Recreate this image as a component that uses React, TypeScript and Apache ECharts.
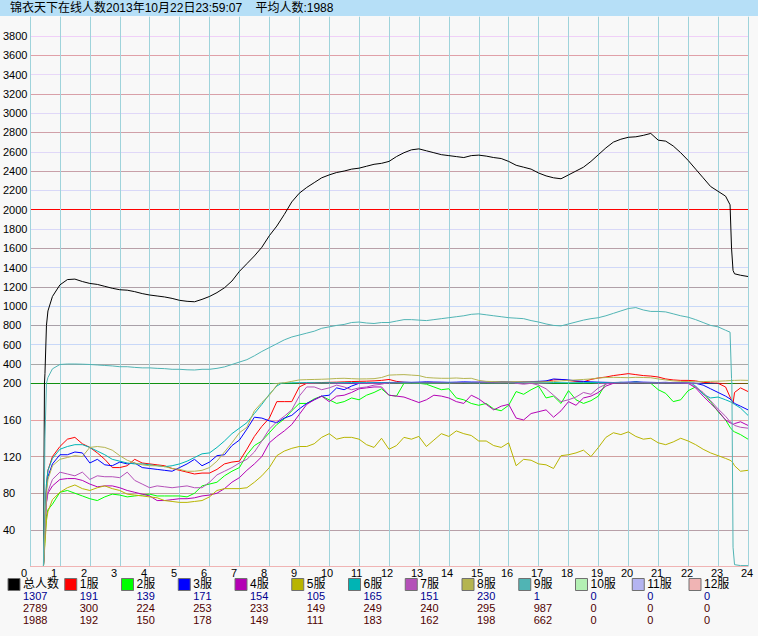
import React, { useEffect, useRef } from 'react';
import * as echarts from 'echarts';

const TITLE = '锦衣天下在线人数2013年10月22日23:59:07    平均人数:1988';

// sample times (hours of the day)
const HOURS = [
  0.45, 0.5, 0.55, 0.6, 0.75,
  1, 1.25, 1.5, 1.75,
  2, 2.25, 2.5, 2.75,
  3, 3.25, 3.5, 3.75,
  4, 4.25, 4.5, 4.75,
  5, 5.25, 5.5, 5.75,
  6, 6.25, 6.5, 6.75,
  7, 7.25, 7.5, 7.75,
  8, 8.25, 8.5, 8.75,
  9, 9.25, 9.5, 9.75,
  10, 10.25, 10.5, 10.75,
  11, 11.25, 11.5, 11.75,
  12, 12.25, 12.5, 12.75,
  13, 13.25, 13.5, 13.75,
  14, 14.25, 14.5, 14.75,
  15, 15.25, 15.5, 15.75,
  16, 16.25, 16.5, 16.75,
  17, 17.25, 17.5, 17.75,
  18, 18.25, 18.5, 18.75,
  19, 19.25, 19.5, 19.75,
  20, 20.25, 20.5, 20.75,
  21, 21.25, 21.5, 21.75,
  22, 22.25, 22.5, 22.75,
  23, 23.25, 23.4, 23.45, 23.5, 23.55, 23.75, 24,
];

const TOTAL = [
  0, 300, 800, 950, 1100,
  1220, 1275, 1280, 1255,
  1235, 1225, 1205, 1185,
  1170, 1165, 1150, 1130,
  1115, 1105, 1095, 1080,
  1060, 1050, 1045, 1070,
  1100, 1140, 1190, 1260,
  1360, 1440, 1520, 1610,
  1730, 1830, 1950, 2080,
  2170, 2230, 2280, 2330,
  2360, 2385, 2400, 2420,
  2430, 2450, 2470, 2480,
  2500, 2550, 2590, 2620,
  2630, 2610, 2590, 2570,
  2560, 2550, 2540, 2560,
  2565, 2555, 2540, 2530,
  2500, 2460, 2440, 2420,
  2380, 2350, 2330, 2320,
  2360, 2400, 2440, 2500,
  2570, 2640, 2700, 2730,
  2750, 2755, 2770, 2790,
  2720, 2710, 2660, 2590,
  2510, 2420, 2330, 2240,
  2190, 2140, 2050, 1600, 1370, 1335, 1320, 1307,
];

const S1 = [
  0, 50, 90, 105, 120,
  131, 139, 141, 134,
  130, 124, 117, 108,
  108, 110, 117, 113,
  112, 111, 110, 107,
  105, 103, 101, 102,
  102, 106, 112, 114,
  115, 128, 142, 153,
  162, 180, 180, 180,
  196, 200, 205, 208,
  210, 212, 215, 218,
  220, 222, 225, 230,
  240, 220, 210, 208,
  207, 210, 208, 206,
  206, 205, 207, 208,
  210, 208, 210, 212,
  210, 212, 215, 218,
  215, 220, 235, 240,
  228, 220, 215, 240,
  255, 265, 280, 290,
  300, 290, 280, 275,
  265, 245, 235, 230,
  230, 225, 210, 205,
  200, 196, 185, 182, 178, 190, 195, 191,
];

const S2 = [
  0, 30, 55, 62, 68,
  81, 83, 80, 77,
  74, 72, 76, 79,
  78, 76, 77, 78,
  79, 77, 77, 77,
  77, 76, 80, 88,
  90, 92, 99, 104,
  108, 122, 132, 137,
  146, 155, 161, 170,
  178, 178, 183, 186,
  182, 178, 180, 184,
  182, 187, 190, 194,
  187, 186, 200, 201,
  200, 199, 196, 193,
  194, 184, 182, 178,
  176, 178, 172, 170,
  176, 191, 188, 193,
  197, 184, 186, 178,
  192, 182, 178, 181,
  186, 200, 205, 210,
  205, 215, 205, 200,
  193, 189, 180, 182,
  192, 196, 189, 180,
  169, 160, 152, 150, 148, 147, 144, 139,
];

const S3 = [
  0, 45, 85, 98, 112,
  122, 122, 125, 124,
  113, 117, 111, 110,
  114, 112, 113, 108,
  107, 106, 105, 104,
  108, 112, 117, 110,
  114, 121, 122, 132,
  138, 150, 163, 162,
  159, 157, 162, 165,
  172, 178, 182, 186,
  187, 195, 193, 197,
  200, 202, 205, 207,
  208, 210, 212, 210,
  212, 215, 213, 212,
  210, 212, 215, 213,
  212, 214, 215, 218,
  215, 213, 216, 218,
  220, 225, 245, 240,
  235, 225, 220, 215,
  212, 210, 208, 210,
  212, 215, 212, 210,
  208, 210, 206, 205,
  203, 200, 198, 194,
  190, 186, 183, 181, 180, 178, 175, 171,
];

const S4 = [
  0, 40, 70, 80, 88,
  95, 96, 96, 94,
  90, 87, 88, 88,
  86, 83, 81, 79,
  77, 72, 72, 73,
  74, 74, 75, 77,
  78, 80, 85, 92,
  97, 105, 112, 120,
  135, 142, 148, 155,
  166, 177, 182, 186,
  180, 186, 187, 190,
  194, 195, 196, 196,
  187, 186, 185, 182,
  179, 182, 187, 186,
  184, 180, 178, 187,
  183, 177, 171, 175,
  177, 162, 160, 167,
  169, 171, 163, 170,
  180, 176, 184, 186,
  190, 197, 200, 202,
  203, 204, 203, 202,
  202, 203, 202, 201,
  200, 195, 186, 178,
  170, 160, 157, 156, 155, 156, 158, 154,
];

const S5 = [
  0, 25, 50, 60, 73,
  81, 86, 89, 85,
  83, 86, 88, 85,
  83, 79, 78, 77,
  76, 75, 72, 71,
  70, 70, 71, 72,
  76, 83, 85, 85,
  85, 86, 92, 99,
  108, 121, 126, 129,
  131, 131, 134, 141,
  145, 139, 141, 141,
  139, 133, 130, 140,
  128, 132, 141, 139,
  142, 131, 138, 145,
  142, 148, 145, 143,
  137, 137, 132, 130,
  135, 110, 117, 116,
  112, 111, 107, 121,
  122, 124, 127, 120,
  130, 141, 146, 144,
  147, 142, 139, 140,
  135, 133, 136, 140,
  137, 133, 128, 124,
  121, 118, 116, 115, 113, 110, 104, 105,
];

const S6 = [
  0, 50, 90, 105, 118,
  128, 131, 133, 133,
  130, 126, 122, 117,
  115, 113, 112, 112,
  111, 110, 109, 110,
  112, 115, 119, 123,
  124, 130, 137, 145,
  151, 157, 167, 177,
  188, 197, 202, 205,
  206, 207, 206, 205,
  206, 205, 207, 208,
  207, 206, 205, 206,
  205, 206, 207, 205,
  206, 205, 204, 205,
  206, 205, 207, 206,
  205, 206, 204, 205,
  206, 205, 204, 205,
  206, 205, 207, 206,
  205, 206, 207, 208,
  207, 206, 208, 207,
  206, 208, 207, 206,
  205, 206, 204, 203,
  202, 197, 188, 184,
  185, 182, 180, 179, 178, 177, 173, 165,
];

const S7 = [
  0, 40, 70, 82, 95,
  103, 101, 99, 103,
  95, 99, 98, 98,
  97, 103, 94, 90,
  86, 88, 87, 86,
  87, 88, 86, 86,
  92, 100, 104, 108,
  113, 117, 125, 137,
  150, 158, 164, 171,
  186, 196, 196, 193,
  195, 198, 196, 193,
  195, 196, 198, 199,
  201, 202, 203, 202,
  203, 202, 204, 203,
  202, 203, 204, 202,
  203, 204, 203, 202,
  203, 200, 199, 200,
  198, 194, 187, 180,
  182, 185, 190, 188,
  195, 199, 202, 203,
  204, 203, 205, 204,
  203, 204, 203, 202,
  200, 196, 190, 181,
  172, 164, 158, 157, 156, 154, 152, 151,
];

const S8 = [
  0, 40, 80, 95, 110,
  117, 119, 121, 120,
  130, 131, 130, 127,
  121, 116, 113, 111,
  110, 110, 109, 107,
  106, 104, 104, 105,
  108, 115, 125, 135,
  146, 152, 170, 179,
  187, 198, 205, 220,
  235, 238, 240, 242,
  245, 250, 252, 248,
  245, 246, 248, 260,
  285, 288, 290, 285,
  280, 260, 255, 252,
  252, 255, 250, 252,
  230, 220, 218, 216,
  215, 218, 216, 215,
  214, 216, 218, 225,
  230, 235, 240, 245,
  255, 260, 262, 260,
  258, 262, 260, 258,
  245, 235, 225, 220,
  218, 216, 218, 220,
  222, 225, 228, 228, 230, 230, 232, 230,
];

const S9 = [
  0, 140, 200, 260, 350,
  395, 400, 400, 398,
  395, 390, 385, 380,
  372, 372, 365, 360,
  360, 355, 352, 345,
  345, 340, 338, 345,
  345, 355, 370, 395,
  420, 445, 485, 530,
  570, 610, 650, 680,
  700, 720, 740, 770,
  785, 800, 810, 830,
  835, 825, 820, 830,
  830, 845, 860, 860,
  855, 850, 860, 870,
  880, 890, 900, 915,
  920, 910, 900, 890,
  880, 875, 870, 850,
  835, 815, 800, 795,
  815, 835, 855, 870,
  880, 900, 925, 950,
  975, 985, 960, 945,
  945, 940, 920, 900,
  885, 860, 830, 800,
  785, 750, 730, 250, 21, 2, 1, 1,
];

// idle servers: flat zero over the whole day
const ZERO_HOURS = [0, 24];
const S10 = [0, 0];
const S11 = [0, 0];
const S12 = [0, 0];

const NAMES = ['总人数', '1服', '2服', '3服', '4服', '5服', '6服', '7服', '8服', '9服', '10服', '11服', '12服'];
const CURRENT = [1307, 191, 139, 171, 154, 105, 165, 151, 230, 1, 0, 0, 0];
const MAXIMUM = [2789, 300, 224, 253, 233, 149, 249, 240, 295, 987, 0, 0, 0];
const AVERAGE = [1988, 192, 150, 178, 149, 111, 183, 162, 198, 662, 0, 0, 0];

const COLORS = [
  '#000000', '#ff0000', '#00ff00', '#0000ff', '#b400b4', '#b8b400', '#00b4b4',
  '#b450b8', '#b4b450', '#50b4b4', '#b4f0b4', '#b4b4f0', '#f0b4b4',
];

const FONT = "'Liberation Sans', 'Noto Sans CJK SC', sans-serif";

export default function App() {
  const ref = useRef<HTMLDivElement>(null);

  useEffect(() => {
    if (!ref.current) return;
    const chart = echarts.init(ref.current, null, { renderer: 'svg' });

    const defs = [
      { values: TOTAL, hours: HOURS },
      { values: S1, hours: HOURS },
      { values: S2, hours: HOURS },
      { values: S3, hours: HOURS },
      { values: S4, hours: HOURS },
      { values: S5, hours: HOURS },
      { values: S6, hours: HOURS },
      { values: S7, hours: HOURS },
      { values: S8, hours: HOURS },
      { values: S9, hours: HOURS },
      { values: S10, hours: ZERO_HOURS },
      { values: S11, hours: ZERO_HOURS },
      { values: S12, hours: ZERO_HOURS },
    ];

    const series: any[] = [];
    defs.forEach((d, i) => {
      const pts = d.hours.map((h, k) => [h, d.values[k]]);
      const base = {
        type: 'line',
        name: NAMES[i],
        data: pts,
        symbol: 'none',
        silent: true,
        z: 2,
        lineStyle: { color: COLORS[i], width: 1 },
        itemStyle: { color: COLORS[i] },
      };
      const isZero = d.hours === ZERO_HOURS;
      if (!isZero) {
        series.push({ ...base, xAxisIndex: 0, yAxisIndex: 0, clip: true });
      }
      series.push({ ...base, xAxisIndex: 1, yAxisIndex: 1, clip: !isZero });
    });

    // horizontal grid colours, one per tick from the axis minimum upward
    const NONE = 'rgba(0,0,0,0)';
    const upperSplit = [
      '#109010', '#a8a8a8', '#c8d8f8', '#a8a0a8', '#c8d8f8', '#b0a0a8', '#d0d8f8',
      '#b8a0a8', '#d8d8f8', '#ff0000', '#d8d8f8', '#c8a0a8', '#e0d8f8', '#d0a0a8',
      '#e0d8f8', '#d8a0a8', '#e8d8f8', '#e0a0a8', '#f0d0f8', NONE,
    ];
    const lowerSplit = ['#ffb0b0', '#b8a0a8', '#c0a0a0', '#d0a0a0', '#e8a0a0', '#109010'];

    const vGrid = {
      show: true,
      lineStyle: { color: '#9fd3db', width: 1 },
    };

    const legendEls: any[] = [];
    NAMES.forEach((n, i) => {
      const x0 = 8 + 56.75 * i;
      legendEls.push({
        type: 'rect',
        shape: { x: x0, y: 578.5, width: 12, height: 12 },
        style: { fill: COLORS[i], stroke: '#707070', lineWidth: 1 },
      });
      legendEls.push({
        type: 'text',
        x: x0 + 15,
        y: 584,
        style: {
          text: n, fill: '#000', font: `12px ${FONT}`, verticalAlign: 'middle', lineHeight: 12,
        },
      });
      [CURRENT[i], MAXIMUM[i], AVERAGE[i]].forEach((v, r) => {
        legendEls.push({
          type: 'text',
          x: x0 + 15,
          y: 596 + 12 * r,
          style: {
            text: String(v),
            fill: r === 0 ? '#000090' : '#500000',
            font: `11px ${FONT}`,
            verticalAlign: 'middle',
            lineHeight: 11,
          },
        });
      });
    });

    chart.setOption({
      animation: false,
      backgroundColor: '#f8f8f8',
      textStyle: { fontFamily: FONT },
      title: {
        text: TITLE,
        left: 10,
        top: 1,
        padding: 0,
        textStyle: { fontSize: 12, fontWeight: 'normal', color: '#000', fontFamily: FONT, lineHeight: 14 },
      },
      graphic: [
        {
          type: 'rect',
          z: 0,
          shape: { x: 0, y: 0, width: 758, height: 16 },
          style: { fill: '#b6dff7' },
        },
        ...legendEls,
      ],
      grid: [
        { left: 28, top: 16.7, width: 720, height: 366.6 },
        { left: 28, top: 383.3, width: 720, height: 183.2 },
        { left: 21, top: 383.3, width: 720, height: 183.2 },
      ],
      xAxis: [
        {
          gridIndex: 0, type: 'value', min: 0, max: 24, interval: 1,
          axisLine: { show: false }, axisTick: { show: false }, axisLabel: { show: false },
          splitLine: vGrid,
        },
        {
          gridIndex: 1, type: 'value', min: 0, max: 24, interval: 1,
          axisLine: { show: false }, axisTick: { show: false }, axisLabel: { show: false },
          splitLine: vGrid,
        },
        {
          gridIndex: 2, type: 'value', min: 0, max: 24, interval: 1,
          axisLine: { show: false }, axisTick: { show: false }, splitLine: { show: false },
          axisLabel: {
            show: true, align: 'left', margin: 1, fontSize: 11, lineHeight: 10,
            color: '#000', fontFamily: FONT,
          },
        },
      ],
      yAxis: [
        {
          gridIndex: 0, type: 'value', min: 200, max: 4000, interval: 200,
          axisLine: { show: false }, axisTick: { show: false },
          axisLabel: {
            align: 'left', margin: 27, fontSize: 11, color: '#000', fontFamily: FONT,
            formatter: (v: number) => (v === 200 || v === 4000 ? '' : String(v)),
          },
          splitLine: { show: true, lineStyle: { color: upperSplit, width: 1 } },
        },
        {
          gridIndex: 1, type: 'value', min: 0, max: 200, interval: 40,
          axisLine: { show: false }, axisTick: { show: false },
          axisLabel: {
            align: 'left', margin: 27, fontSize: 11, color: '#000', fontFamily: FONT,
            formatter: (v: number) => (v === 0 ? '' : String(v)),
          },
          splitLine: { show: true, lineStyle: { color: lowerSplit, width: 1 } },
        },
        {
          gridIndex: 2, type: 'value', min: 0, max: 200, show: false,
          splitLine: { show: false },
        },
      ],
      series,
    });

    return () => chart.dispose();
  }, []);

  return (
    <div
      ref={ref}
      style={{ position: 'fixed', left: 0, top: 0, width: 758, height: 636 }}
    />
  );
}
